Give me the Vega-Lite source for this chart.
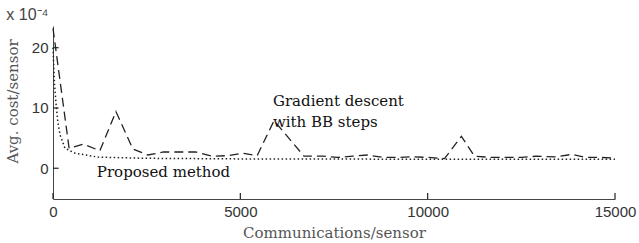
{
  "$schema": "https://vega.github.io/schema/vega-lite/v6.json",
  "width": 562,
  "height": 173,
  "autosize": {"type": "none"},
  "padding": {"left": 53, "top": 26, "right": 24, "bottom": 44},
  "background": "white",
  "title": {"text": "x 10⁻⁴", "anchor": "start", "font": "Liberation Sans", "fontSize": 16, "fontWeight": "normal", "color": "#444", "offset": 3, "dx": 1},
  "config": {"view": {"stroke": null}},
  "datasets": {
    "curves": [
      {"comm": 0, "cost": 23.2, "method": "bb"},
      {"comm": 430, "cost": 3.3, "method": "bb"},
      {"comm": 820, "cost": 4.0, "method": "bb"},
      {"comm": 1250, "cost": 2.9, "method": "bb"},
      {"comm": 1680, "cost": 9.4, "method": "bb"},
      {"comm": 2130, "cost": 3.2, "method": "bb"},
      {"comm": 2530, "cost": 2.2, "method": "bb"},
      {"comm": 2950, "cost": 2.7, "method": "bb"},
      {"comm": 3800, "cost": 2.7, "method": "bb"},
      {"comm": 4250, "cost": 2.0, "method": "bb"},
      {"comm": 4700, "cost": 2.1, "method": "bb"},
      {"comm": 5050, "cost": 2.5, "method": "bb"},
      {"comm": 5450, "cost": 2.1, "method": "bb"},
      {"comm": 5900, "cost": 7.9, "method": "bb"},
      {"comm": 6700, "cost": 2.0, "method": "bb"},
      {"comm": 7200, "cost": 2.0, "method": "bb"},
      {"comm": 7600, "cost": 1.8, "method": "bb"},
      {"comm": 8000, "cost": 2.0, "method": "bb"},
      {"comm": 8400, "cost": 2.2, "method": "bb"},
      {"comm": 8800, "cost": 1.8, "method": "bb"},
      {"comm": 9200, "cost": 1.8, "method": "bb"},
      {"comm": 9600, "cost": 1.9, "method": "bb"},
      {"comm": 10000, "cost": 1.8, "method": "bb"},
      {"comm": 10450, "cost": 1.6, "method": "bb"},
      {"comm": 10900, "cost": 5.3, "method": "bb"},
      {"comm": 11250, "cost": 2.0, "method": "bb"},
      {"comm": 11700, "cost": 1.8, "method": "bb"},
      {"comm": 12100, "cost": 1.8, "method": "bb"},
      {"comm": 12500, "cost": 1.8, "method": "bb"},
      {"comm": 12900, "cost": 2.0, "method": "bb"},
      {"comm": 13400, "cost": 1.9, "method": "bb"},
      {"comm": 13850, "cost": 2.3, "method": "bb"},
      {"comm": 14200, "cost": 1.8, "method": "bb"},
      {"comm": 14600, "cost": 1.8, "method": "bb"},
      {"comm": 15000, "cost": 1.7, "method": "bb"},
      {"comm": 0, "cost": 20.0, "method": "proposed"},
      {"comm": 40, "cost": 14.0, "method": "proposed"},
      {"comm": 80, "cost": 10.8, "method": "proposed"},
      {"comm": 130, "cost": 7.6, "method": "proposed"},
      {"comm": 190, "cost": 5.5, "method": "proposed"},
      {"comm": 320, "cost": 3.3, "method": "proposed"},
      {"comm": 590, "cost": 2.5, "method": "proposed"},
      {"comm": 1200, "cost": 1.85, "method": "proposed"},
      {"comm": 2500, "cost": 1.65, "method": "proposed"},
      {"comm": 5000, "cost": 1.55, "method": "proposed"},
      {"comm": 10000, "cost": 1.5, "method": "proposed"},
      {"comm": 15000, "cost": 1.5, "method": "proposed"}
    ],
    "labels": [
      {"comm": 5870, "cost": 11.2, "text": "Gradient descent"},
      {"comm": 5870, "cost": 7.6, "text": "with BB steps"},
      {"comm": 1170, "cost": -0.7, "text": "Proposed method"}
    ],
    "xticks": [{"comm": 0, "lo": -5.1, "hi": -4.1}, {"comm": 5000, "lo": -5.1, "hi": -4.1}, {"comm": 10000, "lo": -5.1, "hi": -4.1}, {"comm": 15000, "lo": -5.1, "hi": -4.1}],
    "yticks": [{"cost": 0, "lo": 0, "hi": 150}, {"cost": 10, "lo": 0, "hi": 150}, {"cost": 20, "lo": 0, "hi": 150}]
  },
  "layer": [
    {
      "data": {"name": "curves"},
      "transform": [{"filter": "datum.method === 'proposed'"}],
      "mark": {"type": "line", "color": "#222", "strokeWidth": 1.5, "strokeDash": [1.5, 2.5]},
      "encoding": {
        "x": {"field": "comm", "type": "quantitative", "scale": {"domain": [0, 15000], "nice": false},
          "axis": {"values": [0, 5000, 10000, 15000], "format": "d", "ticks": false, "labelPadding": 5, "grid": false, "domainColor": "#444",
            "labelFont": "Liberation Sans", "labelFontSize": 15, "labelColor": "#333",
            "title": "Communications/sensor", "titleFont": "DejaVu Serif", "titleFontSize": 15, "titleFontWeight": "normal", "titleColor": "#555", "titlePadding": 6,
            "labelFlush": false}},
        "y": {"field": "cost", "type": "quantitative", "scale": {"domain": [-5.1, 23.6], "nice": false, "zero": false},
          "axis": {"values": [0, 10, 20], "format": "d", "ticks": false, "labelPadding": 5, "grid": false, "domainColor": "#444",
            "labelFont": "Liberation Sans", "labelFontSize": 15, "labelColor": "#333",
            "title": "Avg. cost/sensor", "titleFont": "DejaVu Serif", "titleFontSize": 15, "titleFontWeight": "normal", "titleColor": "#555", "titlePadding": 11, "titleY": 75,
            "labelFlush": false}}
      }
    },
    {
      "data": {"name": "xticks"},
      "mark": {"type": "rule", "color": "#222", "strokeWidth": 1.2},
      "encoding": {
        "x": {"field": "comm", "type": "quantitative"},
        "y": {"field": "lo", "type": "quantitative"},
        "y2": {"field": "hi"}
      }
    },
    {
      "data": {"name": "yticks"},
      "mark": {"type": "rule", "color": "#222", "strokeWidth": 1.2},
      "encoding": {
        "y": {"field": "cost", "type": "quantitative"},
        "x": {"field": "lo", "type": "quantitative"},
        "x2": {"field": "hi"}
      }
    },
    {
      "data": {"name": "curves"},
      "transform": [{"filter": "datum.method === 'bb'"}],
      "mark": {"type": "line", "color": "#222", "strokeWidth": 1.3, "strokeDash": [9, 5]},
      "encoding": {
        "x": {"field": "comm", "type": "quantitative"},
        "y": {"field": "cost", "type": "quantitative"}
      }
    },
    {
      "data": {"name": "labels"},
      "mark": {"type": "text", "align": "left", "baseline": "middle", "font": "DejaVu Serif", "fontSize": 15, "color": "#111"},
      "encoding": {
        "x": {"field": "comm", "type": "quantitative"},
        "y": {"field": "cost", "type": "quantitative"},
        "text": {"field": "text"}
      }
    }
  ]
}
